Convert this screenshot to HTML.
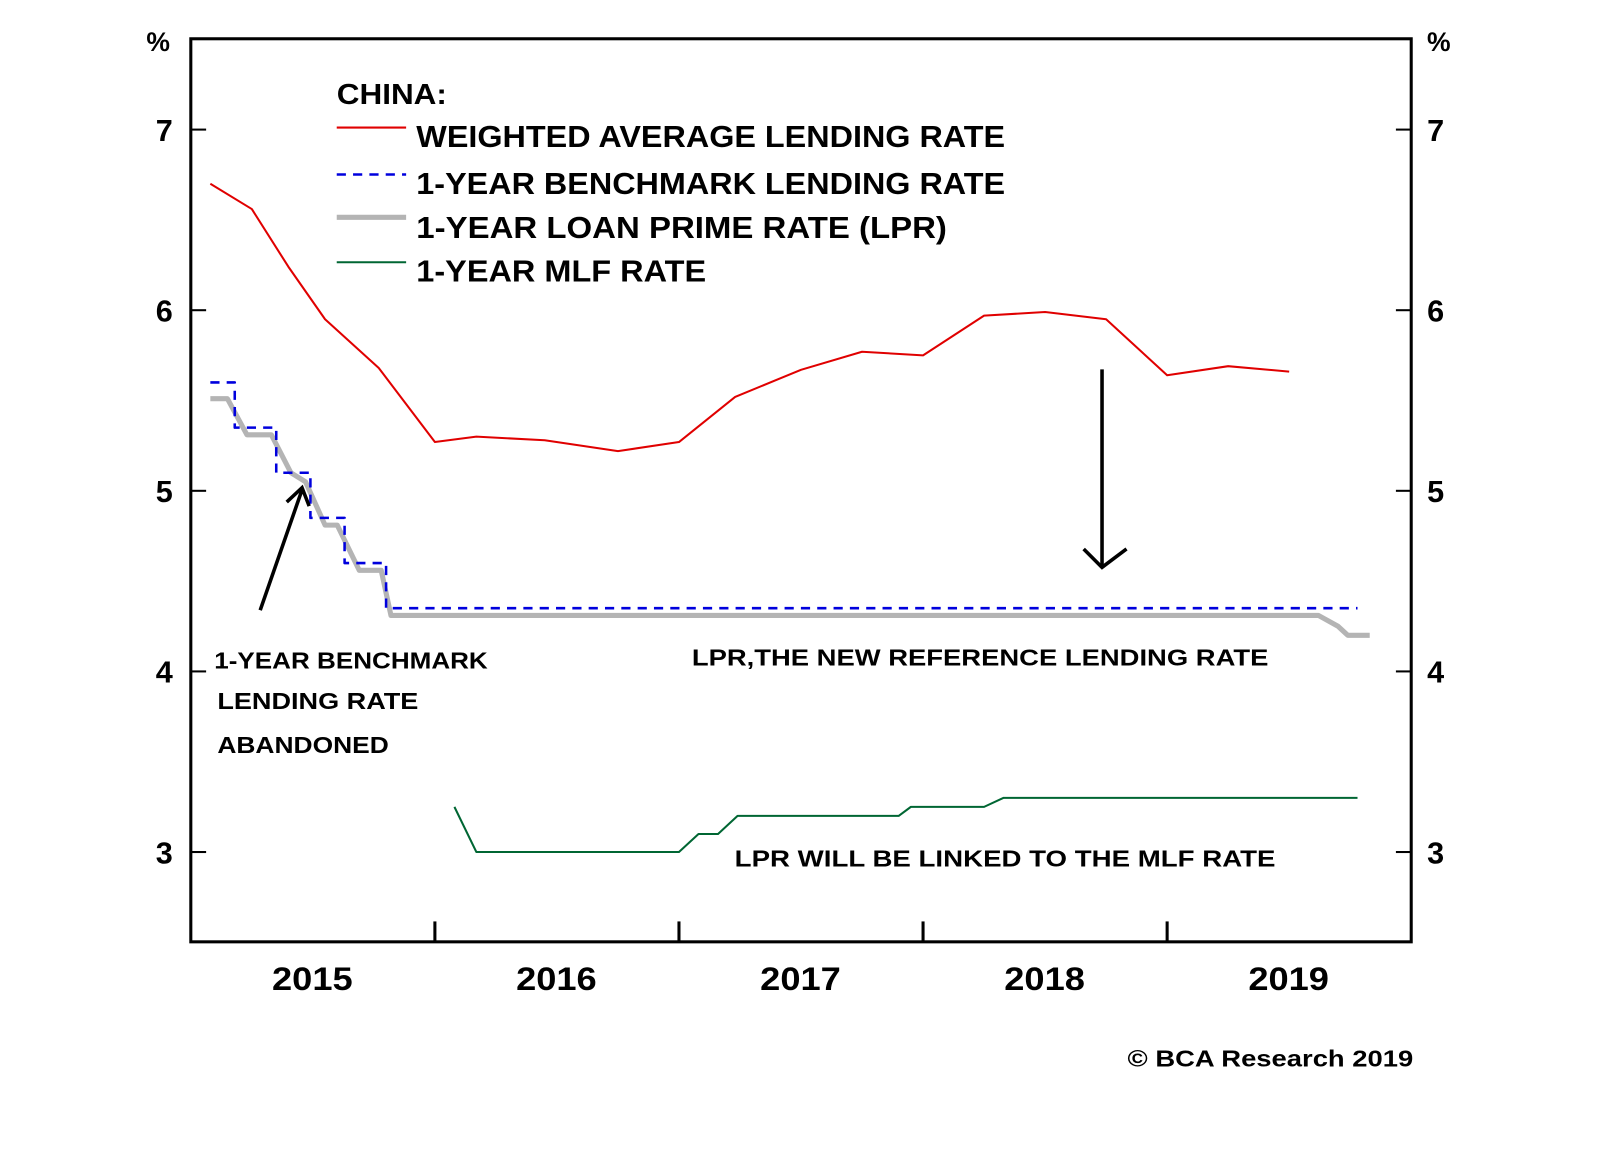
<!DOCTYPE html>
<html><head><meta charset="utf-8"><style>
html,body{margin:0;padding:0;background:#fff;}
svg{display:block;font-family:"Liberation Sans",Arial,sans-serif;}
</style></head><body>
<svg id="chart" width="1600" height="1152" viewBox="0 0 1600 1152">
<g transform="scale(1.0204)">
<g id="marks"></g>
<rect x="187" y="38" width="1196" height="885" fill="none" stroke="#000" stroke-width="3"/>
<g id="axes"></g>
<text x="155" y="50" font-size="26" font-weight="bold" text-anchor="middle">%</text>
<text x="1410" y="50" font-size="26" font-weight="bold" text-anchor="middle">%</text>
<g font-weight="bold" font-size="30">
<text x="330" y="102" font-size="28" textLength="108" lengthAdjust="spacingAndGlyphs">CHINA:</text>
<line x1="330" y1="125" x2="398" y2="125" stroke="#e00000" stroke-width="2"/>
<text x="408" y="144" textLength="577" lengthAdjust="spacingAndGlyphs">WEIGHTED AVERAGE LENDING RATE</text>
<line x1="330" y1="171" x2="398" y2="171" stroke="#0000dd" stroke-width="2.5" stroke-dasharray="9,7"/>
<text x="408" y="190" textLength="577" lengthAdjust="spacingAndGlyphs">1-YEAR BENCHMARK LENDING RATE</text>
<line x1="330" y1="213" x2="398" y2="213" stroke="#b4b4b4" stroke-width="5"/>
<text x="408" y="233" textLength="520" lengthAdjust="spacingAndGlyphs">1-YEAR LOAN PRIME RATE (LPR)</text>
<line x1="330" y1="257" x2="398" y2="257" stroke="#006633" stroke-width="2"/>
<text x="408" y="276" textLength="284" lengthAdjust="spacingAndGlyphs">1-YEAR MLF RATE</text>
</g>
<g font-weight="bold" font-size="23">
<text x="210" y="655" textLength="268" lengthAdjust="spacingAndGlyphs">1-YEAR BENCHMARK</text>
<text x="213" y="695" textLength="197" lengthAdjust="spacingAndGlyphs">LENDING RATE</text>
<text x="213" y="738" textLength="168" lengthAdjust="spacingAndGlyphs">ABANDONED</text>
<text x="678" y="652" textLength="565" lengthAdjust="spacingAndGlyphs">LPR,THE NEW REFERENCE LENDING RATE</text>
<text x="720" y="849" textLength="530" lengthAdjust="spacingAndGlyphs">LPR WILL BE LINKED TO THE MLF RATE</text>
<text x="1105" y="1045" textLength="280" lengthAdjust="spacingAndGlyphs">© BCA Research 2019</text>
</g>
<g stroke="#000" stroke-width="3.5" fill="none">
<line x1="255" y1="598" x2="296" y2="480"/>
<polyline points="281,492 296,478 303,496"/>
<line x1="1080" y1="362" x2="1080" y2="555"/>
<polyline points="1062,538 1080,556 1104,538"/>
</g>
</g>
</svg>
<script>
const yearTicks=[2016,2017,2018,2019];
const yearLabels=["2015","2016","2017","2018","2019"];
const yTicks=[3,4,5,6,7];
const waX=[2015.08,2015.25,2015.4,2015.55,2015.77,2016.0,2016.17,2016.45,2016.75,2017.0,2017.23,2017.5,2017.75,2018.0,2018.25,2018.5,2018.75,2019.0,2019.25,2019.5];
const waY=[6.70,6.56,6.24,5.95,5.68,5.27,5.30,5.28,5.22,5.27,5.52,5.67,5.77,5.75,5.97,5.99,5.95,5.64,5.69,5.66];
const bmX=[2015.08,2015.18,2015.18,2015.35,2015.35,2015.49,2015.49,2015.63,2015.63,2015.8,2015.8,2019.78];
const bmY=[5.6,5.6,5.35,5.35,5.1,5.1,4.85,4.85,4.6,4.6,4.35,4.35];
const lprX=[2015.08,2015.15,2015.23,2015.33,2015.41,2015.47,2015.55,2015.6,2015.69,2015.78,2015.82,2019.62,2019.7,2019.74,2019.83];
const lprY=[5.51,5.51,5.31,5.31,5.1,5.05,4.81,4.81,4.56,4.56,4.31,4.31,4.25,4.2,4.2];
const mlfX=[2016.08,2016.17,2017.0,2017.08,2017.16,2017.24,2017.9,2017.95,2018.25,2018.33,2019.78];
const mlfY=[3.25,3.0,3.0,3.1,3.1,3.2,3.2,3.25,3.25,3.3,3.3];
const NS="http://www.w3.org/2000/svg";
const X=t=>187+(t-2015)*239.2;
const Y=v=>127+(7-v)*177;
const marks=document.getElementById('marks'), axes=document.getElementById('axes');
function mk(tag,attrs,parent){const e=document.createElementNS(NS,tag);for(const k in attrs)e.setAttribute(k,attrs[k]);parent.appendChild(e);return e;}
function line(xs,ys,stroke,w,dash,name){
 const p=mk('polyline',{points:xs.map((x,i)=>X(x)+','+Y(ys[i])).join(' '),fill:'none',stroke:stroke,'stroke-width':w,'stroke-linejoin':'round'},marks);
 if(dash)p.setAttribute('stroke-dasharray',dash);
 
 
}
line(lprX,lprY,'#b4b4b4',5,null,'lpr-line');
line(bmX,bmY,'#0000dd',2.5,'9,7','benchmark-line');
line(waX,waY,'#e00000',2,null,'weighted-average-line');
line(mlfX,mlfY,'#006633',2,null,'mlf-line');
yTicks.forEach(v=>{
 const y=Y(v);
 const l1=mk('line',{x1:187,y1:y,x2:202,y2:y,stroke:'#000','stroke-width':2},axes);
 
 
 const l2=mk('line',{x1:1368,y1:y,x2:1383,y2:y,stroke:'#000','stroke-width':2},axes);
 
 
 const t1=mk('text',{x:161,y:y+11,'font-size':30,'font-weight':'bold','text-anchor':'middle'},axes);t1.textContent=v;
 
 
 const t2=mk('text',{x:1407,y:y+11,'font-size':30,'font-weight':'bold','text-anchor':'middle'},axes);t2.textContent=v;
 
 
});
yearTicks.forEach(t=>{
 const l=mk('line',{x1:X(t),y1:903,x2:X(t),y2:923,stroke:'#000','stroke-width':3},axes);
 
 
});
yearLabels.forEach(s=>{
 const t=mk('text',{x:X(+s+0.5)-40,y:970,'font-size':32,'font-weight':'bold',textLength:79,lengthAdjust:'spacingAndGlyphs'},axes);t.textContent=s;
 
 
});
</script>
</body></html>
